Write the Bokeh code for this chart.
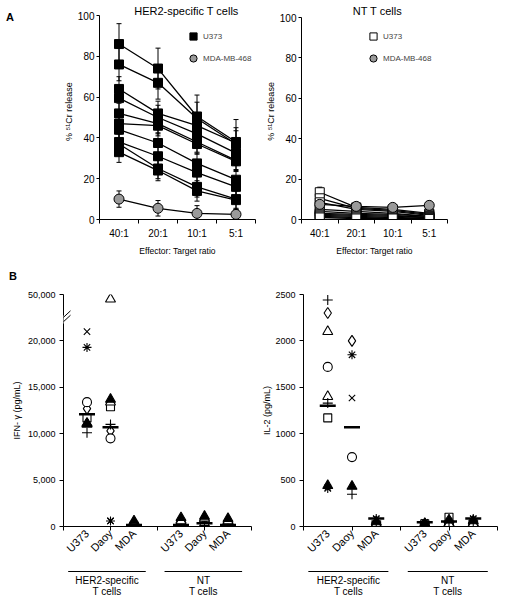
import numpy as np
from math import pi
from bokeh.plotting import figure
from bokeh.layouts import row, column
from bokeh.models import Range1d, FixedTicker, Legend, LegendItem, Arrow, Div
from bokeh.core.properties import value
from bokeh.embed import file_html
from bokeh.resources import INLINE

FONT = "Liberation Sans"

# ---------------- Panel A data (% 51Cr release) ----------------
ratios = ["40:1", "20:1", "10:1", "5:1"]

her2_u373 = [
    [86, 74, 50.5, 38],
    [76, 67, 49.5, 37],
    [64, 52, 46, 37.5],
    [59.5, 50, 42, 32.5],
    [52, 47, 38, 29],
    [47, 46, 37, 28.5],
    [44, 37.5, 27.5, 19.5],
    [38, 31, 23, 16],
    [37, 25, 16, 10],
    [33, 24, 14, 9.5],
]
her2_u373_err = [
    [10, 10, 10.5, 11],
    [8, 8, 8, 8],
    [6, 6, 6, 6],
    [6, 6, 6, 6],
    [5, 5, 5, 5],
    [5, 5, 5, 5],
    [5, 5, 5, 5],
    [5, 5, 5, 5],
    [5, 5, 5, 5],
    [5, 5, 5, 4.5],
]
her2_mda = [10, 5.5, 3, 2.5]
her2_mda_err = [4, 3.8, 3.8, 3]

nt_u373 = [
    [13.5, 6, 5, 3],
    [10.5, 5.5, 4.5, 2.5],
    [8.5, 5, 4, 2],
    [5, 4, 3, 1.5],
    [4, 3, 2.5, 1.5],
    [3, 2.5, 2, 1],
    [2.5, 2, 1.5, 1],
    [2, 1.5, 1, 0.5],
    [1.5, 1, 0.5, 0.5],
    [1, 0.5, 0.5, 0.3],
]
nt_u373_err = [
    [2.5, 1.5, 1, 1],
    [1.5, 1, 1, 1],
    [1, 1, 1, 1],
    [1, 1, 1, 1],
    [1, 1, 1, 1],
    [1, 1, 1, 1],
    [1, 1, 1, 1],
    [1, 1, 1, 1],
    [1, 1, 1, 1],
    [1, 1, 1, 1],
]
nt_mda = [7.5, 6.5, 6, 7]
nt_mda_err = [1.5, 1, 1, 1]

# ---------------- Panel B data (cytokines, pg/mL) ----------------
conditions = ["U373", "Daoy", "MDA", "U373", "Daoy", "MDA"]
condition_pos = [1, 2, 3, 5, 6, 7]
group_names = [["HER2-specific", "T cells"], ["NT", "T cells"]]
group_spans = [(0.2, 3.5), (4.3, 7.6)]

donor_markers = ["diamond", "square", "triangle", "x", "asterisk", "circle",
                 "cross", "triangle", "cross", "triangle"]
donor_fills = ["white", "white", "white", "white", "white", "white",
               "white", "white", "white", "black"]
NaN = float("nan")

ifn_gamma = [
    [12700, 10300, 80, 100, 100, 80],       # diamond
    [11700, 12900, 60, 50, 300, 50],        # square
    [11000, 48000, 400, 700, 800, 650],     # open triangle
    [21000, 600, 100, 100, 100, 100],       # x
    [19300, 600, 100, 150, 150, 100],       # asterisk
    [13400, 9500, 50, 80, 80, 50],          # circle
    [10100, 11000, 100, 100, 100, 100],     # cross
    [11100, 13400, 300, 600, 900, 600],     # open triangle (2)
    [NaN, NaN, NaN, NaN, NaN, NaN],         # cross (2)
    [11100, 13700, 600, 950, 1100, 850],    # filled triangle
]
ifn_gamma_bar = [12100, 10700, 150, 150, 360, 150]
ifn_ticks = [0, 5000, 10000, 15000, 20000, 50000]
ifn_tick_labels = ["0", "5,000", "10,000", "15,000", "20,000", "50,000"]

il2 = [
    [2300, 2000, 40, 30, 40, 50],           # diamond
    [1170, NaN, 15, 30, 100, 30],           # square
    [2100, NaN, 30, 20, 40, 40],            # open triangle
    [420, 1385, 80, 40, 50, 80],            # x
    [410, 1850, 86, 45, 60, 86],            # asterisk
    [1720, 748, 20, 15, 20, 25],            # circle
    [2440, 347, 60, 40, 50, 60],            # cross
    [1400, NaN, 25, 25, 30, 30],            # open triangle (2)
    [1330, NaN, 40, 30, 40, 40],            # cross (2)
    [440, 433, 50, 30, 70, 60],             # filled triangle
]
il2_bar = [1300, 1070, 86, 45, 55, 85]
il2_ticks = [0, 500, 1000, 1500, 2000, 2500]
il2_tick_labels = ["0", "500", "1000", "1500", "2000", "2500"]

panel_letters = ["A", "B"]

# broken IFN-gamma axis: linear up to the break, compressed 4x near 50,000
IFN_BREAK = 22000
IFN_TOP_REAL = 50000
IFN_TOP_AXIS = 25000


def ifn_to_axis(v):
    v = np.asarray(v, dtype=float)
    return np.where(v > IFN_BREAK, IFN_TOP_AXIS - (IFN_TOP_REAL - v) / 4.0, v)


def il2_to_axis(v):
    return np.asarray(v, dtype=float)


# ---------------- page geometry (pixels) ----------------
ROW1_H = 280
ROW2_TOP = 280
B_FIG_BOTTOM = 568
GROUP_H = 30

GA_L = dict(x0=28, width=230, frame_l=99, frame_r=255, frame_t=3, y100=15, y0=219)
GA_R = dict(x0=258, width=240, frame_l=301, frame_r=447, frame_t=3, y100=17, y0=219)
GB_L = dict(x0=0, width=258, frame_l=63, frame_r=251, frame_t=294, y0=526)
GB_R = dict(x0=258, width=240, frame_l=303, frame_r=497, frame_t=294, y0=526)


def base_style(p):
    p.outline_line_color = None
    p.xgrid.grid_line_color = None
    p.ygrid.grid_line_color = None
    p.background_fill_color = "white"
    p.border_fill_color = "white"
    for ax in p.axis:
        ax.axis_line_color = "black"
        ax.axis_line_width = 1
        ax.major_tick_line_color = "black"
        ax.minor_tick_line_color = None
        ax.major_label_text_font = FONT
        ax.axis_label_text_font = FONT
        ax.axis_label_text_font_style = "normal"
        ax.axis_label_text_color = "black"
        ax.major_label_text_color = "black"


def cyto_panel(title, u373, u373_err, mda, mda_err, sq_fill, g, title_px, legend_px):
    n = len(ratios)
    left = g["frame_l"] - g["x0"]
    frame_w = g["frame_r"] - g["frame_l"]
    frame_h = g["y0"] - g["frame_t"]
    dpp = 100.0 / (g["y0"] - g["y100"])
    y_top = 100 + (g["y100"] - g["frame_t"]) * dpp
    x_per_px = n / frame_w

    x = np.arange(1, n + 1)
    p = figure(width=g["width"], height=ROW1_H,
               x_range=Range1d(0.5, n + 0.5), y_range=Range1d(0, y_top),
               output_backend="svg", toolbar_location=None,
               min_border_left=left, min_border_right=g["width"] - left - frame_w,
               min_border_top=g["frame_t"], min_border_bottom=ROW1_H - g["y0"])
    base_style(p)

    def series(vals, errs, marker, fill, size):
        v = np.asarray(vals, float)
        e = np.asarray(errs, float)
        p.segment(x0=x, y0=v - e, x1=x, y1=v + e, line_color="black", line_width=1)
        p.scatter(x, v + e, marker="dash", size=5, line_color="black", line_width=1)
        p.scatter(x, v - e, marker="dash", size=5, line_color="black", line_width=1)
        p.line(x, v, line_color="black", line_width=1.3)
        return p.scatter(x, v, marker=marker, size=size, fill_color=fill,
                         line_color="black", line_width=1)

    sq_renderers = [series(v, e, "square", sq_fill, 9) for v, e in zip(u373, u373_err)]
    r_mda = series(mda, mda_err, "circle", "#9a9a9a", 10)

    xa = p.xaxis[0]
    xa.ticker = FixedTicker(ticks=[int(i) for i in x],
                            minor_ticks=[float(i) - 0.5 for i in range(1, n + 2)])
    xa.major_label_overrides = {int(i): r for i, r in zip(x, ratios)}
    xa.major_tick_line_color = None
    xa.major_tick_out = 4
    xa.major_tick_in = 0
    xa.minor_tick_line_color = "black"
    xa.minor_tick_out = 4
    xa.minor_tick_in = 0
    xa.major_label_standoff = 4
    xa.major_label_text_font_size = "10px"
    xa.axis_label = "Effector: Target ratio"
    xa.axis_label_text_font_size = "8.5px"
    xa.axis_label_standoff = 4

    ya = p.yaxis[0]
    ya.bounds = (0, 100)
    ya.ticker = FixedTicker(ticks=[0, 20, 40, 60, 80, 100])
    ya.major_tick_out = 3
    ya.major_tick_in = 0
    ya.major_label_standoff = 2
    ya.major_label_text_font_size = "10px"
    ya.axis_label = "% \u2075\u00b9Cr release"
    ya.axis_label_text_font_size = "9px"
    ya.axis_label_standoff = 1

    # legend: glyph-left and top-of-legend in page pixels
    leg_h = 40
    legend = Legend(items=[LegendItem(label="U373", renderers=[sq_renderers[0]]),
                           LegendItem(label="MDA-MB-468", renderers=[r_mda])],
                    location=(legend_px[0] - g["frame_l"], g["y0"] - (legend_px[1] + leg_h)),
                    orientation="vertical",
                    border_line_color=None, background_fill_alpha=0,
                    label_text_font=FONT, label_text_font_size="8px",
                    glyph_width=18, glyph_height=18, label_height=18,
                    spacing=4, padding=0, margin=0, label_standoff=1)
    p.add_layout(legend)

    tx = 0.5 + (title_px[0] - g["frame_l"]) * x_per_px
    ty = 100 + (g["y100"] - title_px[1]) * dpp
    p.text(x=[tx], y=[ty], text=[title], text_font=value(FONT), text_font_size="11px",
           text_align="center", text_baseline="middle", text_color="black")
    return p


def cytokine_panel(values, bars, to_axis, ticks_real, tick_labels, ylabel, g, label_standoff,
                   break_px=None):
    left = g["frame_l"] - g["x0"]
    frame_w = g["frame_r"] - g["frame_l"]
    frame_h = g["y0"] - g["frame_t"]
    top = g["frame_t"] - ROW2_TOP
    bottom = B_FIG_BOTTOM - g["y0"]
    y_top = float(to_axis([ticks_real[-1]])[0])
    x_range = Range1d(0, 8)
    p = figure(width=g["width"], height=top + frame_h + bottom,
               x_range=x_range, y_range=Range1d(0, y_top),
               output_backend="svg", toolbar_location=None,
               min_border_left=left, min_border_right=g["width"] - left - frame_w,
               min_border_top=top, min_border_bottom=bottom)
    base_style(p)
    per_px = y_top / frame_h

    sizes = {"diamond": 11, "square": 8, "triangle": 10, "x": 9, "asterisk": 9,
             "circle": 9, "cross": 10}
    for vals, m, f in zip(values, donor_markers, donor_fills):
        p.scatter(condition_pos, to_axis(vals), marker=m, size=sizes[m], fill_color=f,
                  line_color="black", line_width=1.1)
    p.scatter(condition_pos, to_axis(bars), marker="dash", size=16,
              line_color="black", line_width=2.5)

    xa = p.xaxis[0]
    xa.ticker = FixedTicker(ticks=condition_pos, minor_ticks=[0, 2, 4, 6, 8])
    xa.major_label_overrides = {pos: name for pos, name in zip(condition_pos, conditions)}
    xa.major_label_orientation = pi / 4
    xa.major_tick_line_color = None
    xa.major_tick_out = 3
    xa.major_tick_in = 0
    xa.minor_tick_line_color = "black"
    xa.minor_tick_out = 4
    xa.minor_tick_in = 0
    xa.major_label_standoff = 1
    xa.major_label_text_font_size = "11px"

    ya = p.yaxis[0]
    axis_ticks = [float(t) for t in to_axis(ticks_real)]
    ya.ticker = FixedTicker(ticks=axis_ticks)
    ya.major_label_overrides = {t: lab for t, lab in zip(axis_ticks, tick_labels)}
    ya.major_tick_out = 4
    ya.major_tick_in = 0
    ya.major_label_standoff = 4
    ya.major_label_text_font_size = "9px"
    ya.axis_label = ylabel
    ya.axis_label_text_font_size = "9px"
    ya.axis_label_standoff = label_standoff

    if break_px is not None:
        yb0 = (g["y0"] - break_px) * per_px
        x_per_px = 8.0 / frame_w
        p.add_layout(Arrow(end=None, x_start=0, y_start=yb0 - 4 * per_px, x_end=0,
                           y_end=yb0 + 4 * per_px, line_color="white", line_width=3))
        for dy in (-2.2, 2.2):
            yb = yb0 + dy * per_px
            p.add_layout(Arrow(end=None, x_start=-7 * x_per_px, y_start=yb - 6.5 * per_px,
                               x_end=7 * x_per_px, y_end=yb + 6.5 * per_px,
                               line_color="black", line_width=1))

    # group labels strip below the panel (pixel y coordinates, downward)
    gfig = figure(width=g["width"], height=GROUP_H, x_range=x_range,
                  y_range=Range1d(GROUP_H, 0), x_axis_type=None, y_axis_type=None,
                  output_backend="svg", toolbar_location=None,
                  min_border_left=left, min_border_right=g["width"] - left - frame_w,
                  min_border_top=0, min_border_bottom=0)
    gfig.outline_line_color = None
    gfig.xgrid.grid_line_color = None
    gfig.ygrid.grid_line_color = None
    x0s = [s[0] for s in group_spans]
    x1s = [s[1] for s in group_spans]
    gfig.segment(x0=x0s, y0=[3] * len(x0s), x1=x1s, y1=[3] * len(x0s),
                 line_color="black", line_width=1)
    centers = [(a + b) / 2 for a, b in group_spans]
    for k in range(2):
        gfig.text(x=centers, y=[12 + 11 * k] * len(centers),
                  text=[names[k] for names in group_names],
                  text_font=value(FONT), text_font_size="10px",
                  text_align="center", text_baseline="middle", text_color="black")
    return column(p, gfig, spacing=0)


# panel letters (HTML text block to the left of the top row)
letter_style = ("font-family:'Liberation Sans',Arial,sans-serif;font-size:11px;"
                "font-weight:bold;line-height:13px;color:black;margin:0;")
letters = Div(
    text=(f"<div style=\"{letter_style}padding:11px 0 0 6px;\">{panel_letters[0]}</div>"
          f"<div style=\"{letter_style}padding:246px 0 0 9px;\">{panel_letters[1]}</div>"),
    width=GA_L["x0"], height=ROW1_H, margin=0)

a_left = cyto_panel("HER2-specific T cells", her2_u373, her2_u373_err, her2_mda, her2_mda_err,
                    "black", GA_L, title_px=(186, 10), legend_px=(184, 27))
a_right = cyto_panel("NT T cells", nt_u373, nt_u373_err, nt_mda, nt_mda_err,
                     "white", GA_R, title_px=(377, 10), legend_px=(364, 27))

b_left = cytokine_panel(ifn_gamma, ifn_gamma_bar, ifn_to_axis, ifn_ticks, ifn_tick_labels,
                        "IFN- \u03b3 (pg/mL)", GB_L, label_standoff=3, break_px=319)
b_right = cytokine_panel(il2, il2_bar, il2_to_axis, il2_ticks, il2_tick_labels,
                         "IL-2 (pg/mL)", GB_R, label_standoff=0)

layout = column(row(letters, a_left, a_right, spacing=0),
                row(b_left, b_right, spacing=0), spacing=0)

with open("out.html", "w") as f:
    f.write(file_html(layout, INLINE))
